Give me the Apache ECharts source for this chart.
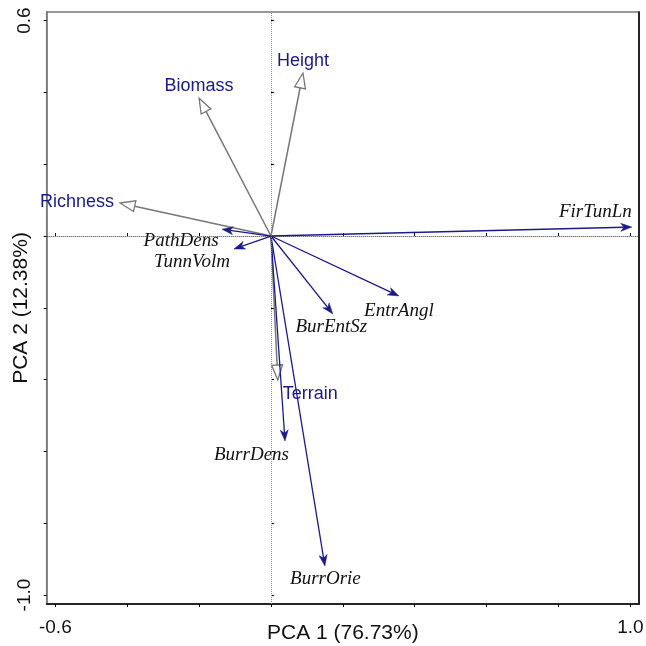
<!DOCTYPE html>
<html>
<head>
<meta charset="utf-8">
<script src="https://cdn.jsdelivr.net/npm/echarts@6/dist/echarts.min.js"></script>
<style>
html,body{margin:0;padding:0;background:#fff;}
#chart{width:646px;height:646px;}
</style>
</head>
<body>
<div id="chart"></div>
<script>
// ---- data ----
const habitatNames = ['Richness', 'Biomass', 'Height', 'Terrain'];
const habitatPC1 = [-0.42, -0.200, 0.089, 0.019];
const habitatPC2 = [0.092, 0.384, 0.454, -0.401];

const burrowNames = ['FirTunLn', 'PathDens', 'TunnVolm', 'EntrAngl', 'BurEntSz', 'BurrDens', 'BurrOrie'];
const burrowPC1 = [1.004, -0.136, -0.103, 0.356, 0.172, 0.039, 0.150];
const burrowPC2 = [0.025, 0.019, -0.036, -0.167, -0.217, -0.571, -0.919];

const xTickValues = [-0.6, -0.4, -0.2, 0, 0.2, 0.4, 0.6, 0.8, 1.0];
const xLabelValues = [-0.6, 1.0];
const yTickValues = [-1.0, -0.8, -0.6, -0.4, -0.2, 0, 0.2, 0.4, 0.6];
const yLabelValues = [-1.0, 0.6];

const xTitle = 'PCA 1 (76.73%)';
const yTitle = 'PCA 2 (12.38%)';

// ---- styles ----
const GRAY = '#777777';
const BLUE = '#1a1a8c';
const labelLayout = {
  Richness: {dx: -6, dy: -1, align: 'right'},
  Biomass: {dx: 0, dy: -12, align: 'center'},
  Height: {dx: 0, dy: -12, align: 'center'},
  Terrain: {dx: 5, dy: 14, align: 'left'},
  FirTunLn: {dx: 0, dy: -15, align: 'right'},
  PathDens: {dx: -41, dy: 12, align: 'center'},
  TunnVolm: {dx: -42, dy: 13, align: 'center'},
  EntrAngl: {dx: 0, dy: 15, align: 'center'},
  BurEntSz: {dx: -1.5, dy: 13, align: 'center'},
  BurrDens: {dx: -33.5, dy: 14, align: 'center'},
  BurrOrie: {dx: 0.5, dy: 13, align: 'center'}
};

function vectorSeries(names, pc1, pc2, kind) {
  const data = names.map((n, i) => [pc1[i], pc2[i]]);
  return {
    type: 'custom',
    coordinateSystem: 'cartesian2d',
    clip: false,
    z: kind === 'habitat' ? 3 : 4,
    data: data,
    renderItem: function (params, api) {
      const name = names[params.dataIndex];
      const o = api.coord([0, 0]);
      const t = api.coord([api.value(0), api.value(1)]);
      const dx = t[0] - o[0], dy = t[1] - o[1];
      const len = Math.sqrt(dx * dx + dy * dy);
      const ux = dx / len, uy = dy / len;
      const px = -uy, py = ux;
      const children = [];
      const lay = labelLayout[name];
      if (kind === 'habitat') {
        const hl = 15, hw = 5.5;
        const bx = t[0] - ux * hl, by = t[1] - uy * hl;
        children.push({
          type: 'line',
          shape: {x1: o[0], y1: o[1], x2: bx, y2: by},
          style: {stroke: GRAY, lineWidth: 1.5}
        });
        children.push({
          type: 'polygon',
          shape: {points: [[t[0], t[1]], [bx + px * hw, by + py * hw], [bx - px * hw, by - py * hw]]},
          style: {fill: '#ffffff', stroke: GRAY, lineWidth: 1.3}
        });
        children.push({
          type: 'text',
          style: {
            text: name, x: t[0] + lay.dx, y: t[1] + lay.dy,
            fill: BLUE, fontSize: 18, fontFamily: 'Liberation Sans, Arial, sans-serif',
            align: lay.align, verticalAlign: 'middle'
          }
        });
      } else {
        const hl = 11, hw = 4, notch = 3;
        const bx = t[0] - ux * hl, by = t[1] - uy * hl;
        const nx = t[0] - ux * (hl - notch), ny = t[1] - uy * (hl - notch);
        children.push({
          type: 'line',
          shape: {x1: o[0], y1: o[1], x2: nx, y2: ny},
          style: {stroke: BLUE, lineWidth: 1.3}
        });
        children.push({
          type: 'polygon',
          shape: {points: [[t[0], t[1]], [bx + px * hw, by + py * hw], [nx, ny], [bx - px * hw, by - py * hw]]},
          style: {fill: BLUE, stroke: BLUE, lineWidth: 0.5}
        });
        children.push({
          type: 'text',
          style: {
            text: name, x: t[0] + lay.dx, y: t[1] + lay.dy,
            fill: '#111111', fontSize: 19, fontStyle: 'italic',
            fontFamily: 'Liberation Serif, Times New Roman, serif',
            align: lay.align, verticalAlign: 'middle'
          }
        });
      }
      return {type: 'group', children: children};
    }
  };
}

const XMIN = -0.624, XMAX = 1.024, YMIN = -1.025, YMAX = 0.624;
const tickFont = {fontSize: 19, fontFamily: 'Liberation Sans, Arial, sans-serif', color: '#111'};

const option = {
  backgroundColor: '#ffffff',
  animation: false,
  grid: {
    left: 46.7, right: 7, top: 12, bottom: 42,
    containLabel: false, outerBoundsMode: 'none',
    show: true, borderColor: GRAY, borderWidth: 1.5, backgroundColor: 'transparent'
  },
  xAxis: [{
    type: 'value', min: XMIN, max: XMAX, position: 'bottom',
    name: xTitle, nameLocation: 'middle', nameGap: 19, nameMoveOverlap: false,
    nameTextStyle: {fontSize: 21, fontFamily: 'Liberation Sans, Arial, sans-serif', color: '#111'},
    axisLine: {show: true, onZero: false, lineStyle: {color: '#000', width: 1.5}},
    axisTick: {show: true, inside: false, length: 3, customValues: xTickValues, lineStyle: {color: '#000'}},
    axisLabel: Object.assign({show: true, margin: 14, customValues: xLabelValues,
      formatter: v => v.toFixed(1)}, tickFont),
    splitLine: {show: false}
  }, {
    type: 'value', min: XMIN, max: XMAX, position: 'bottom',
    axisLine: {show: false},
    axisTick: {show: true, inside: true, length: 3, customValues: xTickValues, lineStyle: {color: '#000'}},
    axisLabel: {show: false},
    splitLine: {show: false}
  }],
  yAxis: [{
    type: 'value', min: YMIN, max: YMAX, position: 'left',
    name: yTitle, nameLocation: 'middle', nameGap: 15, nameMoveOverlap: false,
    nameTextStyle: {fontSize: 21, fontFamily: 'Liberation Sans, Arial, sans-serif', color: '#111'},
    axisLine: {show: true, onZero: false, lineStyle: {color: GRAY, width: 1.5}},
    axisTick: {show: true, inside: false, length: 3, customValues: yTickValues, lineStyle: {color: '#000'}},
    axisLabel: Object.assign({show: true, rotate: 90, margin: 12, customValues: yLabelValues,
      formatter: v => v.toFixed(1)}, tickFont),
    splitLine: {show: false}
  }, {
    type: 'value', min: YMIN, max: YMAX, position: 'left',
    axisLine: {show: false},
    axisTick: {show: true, inside: true, length: 3, customValues: yTickValues, lineStyle: {color: '#000'}},
    axisLabel: {show: false},
    splitLine: {show: false}
  }, {
    type: 'value', min: YMIN, max: YMAX, position: 'right',
    axisLine: {show: true, onZero: false, lineStyle: {color: '#000', width: 1.5}},
    axisTick: {show: false}, axisLabel: {show: false}, splitLine: {show: false}
  }],
  series: [
    {
      type: 'line', data: [], z: 1,
      markLine: {
        silent: true, symbol: ['none', 'none'], label: {show: false},
        data: [
          {xAxis: 0, lineStyle: {type: 'dotted', color: '#8a8a8a', width: 1}},
          {yAxis: 0, lineStyle: {type: 'dotted', color: '#333333', width: 1}}
        ]
      }
    },
    vectorSeries(habitatNames, habitatPC1, habitatPC2, 'habitat'),
    vectorSeries(burrowNames, burrowPC1, burrowPC2, 'burrow')
  ]
};

const chart = echarts.init(document.getElementById('chart'), null, {renderer: 'canvas'});
chart.setOption(option);
</script>
</body>
</html>
